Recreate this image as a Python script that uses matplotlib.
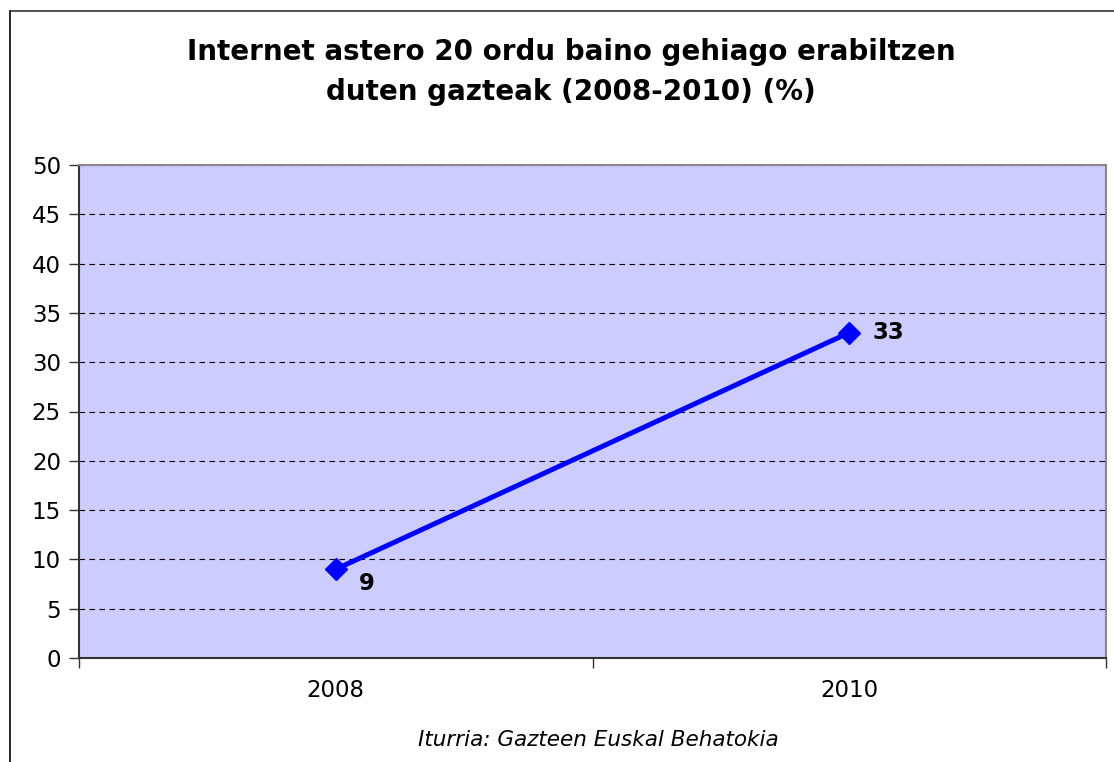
import matplotlib
matplotlib.use("Agg")
import matplotlib.pyplot as plt
from matplotlib.lines import Line2D

categories = ["2008", "2010"]
values = [9, 33]
yticks = list(range(0, 55, 5))
title = "Internet astero 20 ordu baino gehiago erabiltzen\nduten gazteak (2008-2010) (%)"
source = "Iturria: Gazteen Euskal Behatokia"

fig = plt.figure(figsize=(11.14, 7.62), dpi=100)
W, H = 1114, 762
ax = fig.add_axes([79 / W, (H - 658) / H, (1106 - 79) / W, (658 - 165) / H])
ax.set_facecolor("#CCCCFF")

x = list(range(len(categories)))
ax.plot(x, values, color="#0000FF", lw=3.6, marker="D", markersize=11,
        markerfacecolor="#0000FF", markeredgecolor="#0000FF", zorder=5, clip_on=False)
ax.set_xlim(-0.5, len(categories) - 0.5)
ax.set_ylim(0, 50)
ax.set_yticks(yticks)
ax.set_yticklabels([str(t) for t in yticks], fontsize=16.5, family="DejaVu Sans")
ax.yaxis.grid(True, color="black", linestyle=(0, (5, 4)), linewidth=0.8)
ax.set_axisbelow(True)

ax.set_xticks([-0.5, 0.5, 1.5])
ax.set_xticklabels([])
ax.tick_params(axis="x", length=7, width=1, color="#333333", direction="out")
ax.tick_params(axis="y", length=7, width=1, color="#333333", direction="out", pad=6)
for i, c in enumerate(categories):
    ax.text(i, -0.065, c, transform=ax.get_xaxis_transform(), ha="center", va="center",
            fontsize=16.5, family="DejaVu Sans")

for i, v in enumerate(values):
    ax.annotate(str(v), (i, v), xytext=(17, -10 if i == 0 else 0),
                textcoords="offset points",
                ha="left", va="center", fontsize=16.5, fontweight="bold", family="DejaVu Sans")

for s in ["left", "bottom"]:
    ax.spines[s].set_color("#333333")
    ax.spines[s].set_linewidth(1.5)
for s in ["top", "right"]:
    ax.spines[s].set_color("#888888")
    ax.spines[s].set_linewidth(1.5)

fig.text(571 / W, 1 - 72 / H, title, ha="center", va="center", fontsize=20,
         fontweight="bold", family="DejaVu Sans", linespacing=1.5)
fig.text(598 / W, 1 - 740 / H, source, ha="center", va="center", fontsize=15.5,
         style="italic", family="DejaVu Sans")

# chart border (left and top visible)
fig.add_artist(Line2D([10 / W, 10 / W], [0, 1 - 11 / H], transform=fig.transFigure, color="black", lw=1.2))
fig.add_artist(Line2D([10 / W, 1], [1 - 11 / H, 1 - 11 / H], transform=fig.transFigure, color="#333333", lw=1.2))

fig.savefig("out.png", dpi=100)
